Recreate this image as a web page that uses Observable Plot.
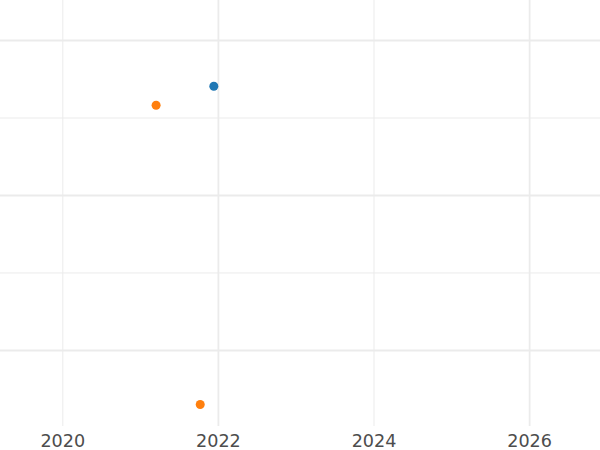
<!DOCTYPE html>
<html>
<head>
<meta charset="utf-8">
<script src="https://cdn.jsdelivr.net/npm/d3@7"></script>
<script src="https://cdn.jsdelivr.net/npm/@observablehq/plot@0.6"></script>
<style>
  html, body { margin: 0; padding: 0; background: #fff; }
  #chart svg { display: block; }
</style>
</head>
<body>
<div id="chart"></div>
<script>
// Data
const series = ["A", "B", "B"];
const years = [2021.941, 2021.199, 2021.766];
const values = [3.41, 3.165, -0.697];
const seriesColors = ["#1f77b4", "#ff7f0e"];
const seriesNames = ["A", "B"];

// Ticks / grid
const xTickLabels = [2020, 2022, 2024, 2026];
const xMajor = [2022, 2026];
const xMinor = [2020, 2024];
const yMajor = [0, 2, 4];
const yMinor = [1, 3];

const points = years.map((x, i) => ({x, y: values[i], s: series[i]}));

const chart = Plot.plot({
  width: 600,
  height: 450,
  marginTop: 0,
  marginRight: 0,
  marginLeft: 0,
  marginBottom: 24,
  style: {fontFamily: "DejaVu Sans", fontSize: "17.6px", color: "#4d4d4d", background: "#fff"},
  x: {domain: [2019.199, 2026.911], axis: null},
  y: {domain: [-0.981, 4.516], axis: null},
  color: {domain: seriesNames, range: seriesColors},
  marks: [
    Plot.ruleY(yMinor, {stroke: "#ebebeb", strokeWidth: 1}),
    Plot.ruleX(xMinor, {stroke: "#ebebeb", strokeWidth: 1}),
    Plot.ruleY(yMajor, {stroke: "#ebebeb", strokeWidth: 1.8}),
    Plot.ruleX(xMajor, {stroke: "#ebebeb", strokeWidth: 1.8}),
    Plot.axisX({ticks: xTickLabels, tickFormat: d => String(d), tickSize: 0, tickPadding: 8, fill: "#4d4d4d", fontSize: 17.6, label: null}),
    Plot.dot(points, {x: "x", y: "y", fill: "s", r: 4.5})
  ]
});
document.getElementById("chart").appendChild(chart);
</script>
</body>
</html>
